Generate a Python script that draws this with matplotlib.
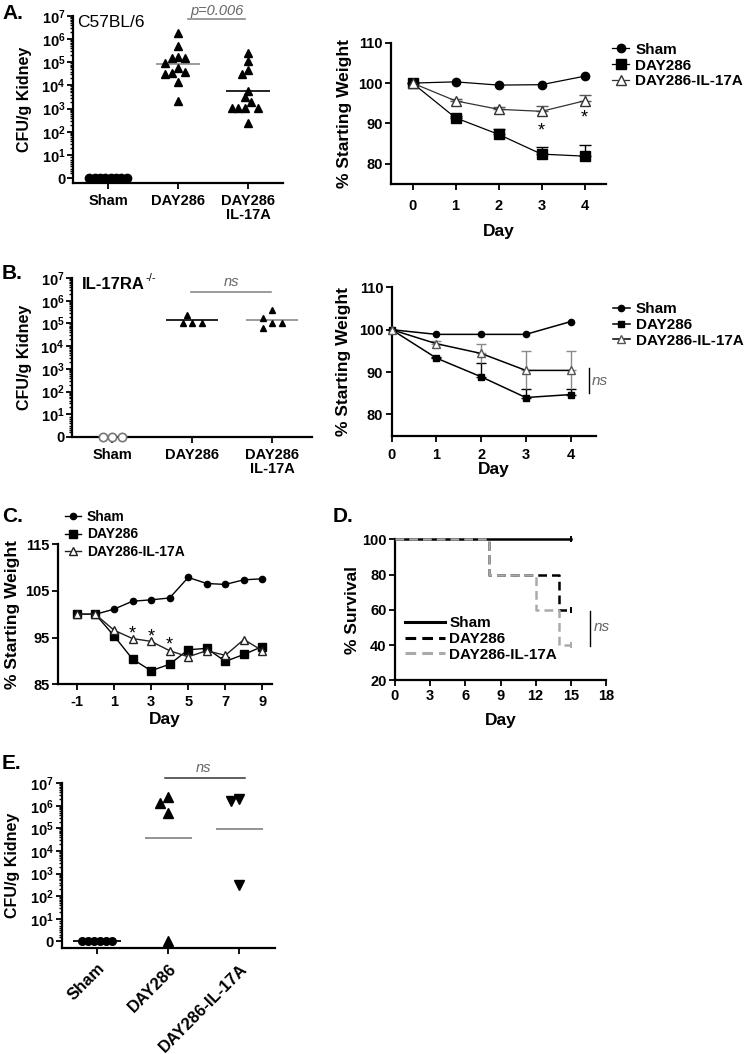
import numpy as np
import matplotlib.pyplot as plt
from matplotlib.lines import Line2D

plt.rcParams['font.family'] = ['Liberation Sans', 'DejaVu Sans']
plt.rcParams['font.weight'] = 'bold'
plt.rcParams['axes.labelweight'] = 'bold'
plt.rcParams['axes.unicode_minus'] = False
plt.rcParams['mathtext.fontset'] = 'custom'
plt.rcParams['mathtext.rm'] = 'Liberation Sans:bold'
plt.rcParams['mathtext.bf'] = 'Liberation Sans:bold'
plt.rcParams['mathtext.it'] = 'Liberation Sans:bold:italic'
plt.rcParams['axes.linewidth'] = 1.6

# ---------------- data ----------------
groups = ['Sham', 'DAY286', 'DAY286\nIL-17A']
groups_e = ['Sham', 'DAY286', 'DAY286-IL-17A']
series = ['Sham', 'DAY286', 'DAY286-IL-17A']

# A: CFU/g kidney, C57BL/6
a_sham = [0, 0, 0, 0, 0, 0, 0, 0]
a_day286 = [1.8e6, 5.2e5, 1.65e5, 1.5e5, 1.5e5, 9.5e4, 5.6e4, 3.5e4, 3.8e4, 3.2e4, 1.35e4, 2.2e3]
a_il17 = [2.5e5, 1.1e5, 4.6e4, 3.2e4, 5.8e3, 3.2e3, 1.9e3, 1.1e3, 1.1e3, 1.1e3, 1.1e3, 2.3e2]
a_centre = [0, 8.7e4, 5.8e3]
a_pval = 'p=0.006'

# A: weight
a_days = [0, 1, 2, 3, 4]
a_w_sham = [100, 100.3, 99.5, 99.6, 101.7]
a_w_d286 = [100, 91.4, 87.3, 82.4, 81.9]
a_w_d286_err = [0, 0.4, 1.2, 1.8, 2.7]
a_w_il17 = [100, 95.6, 93.5, 93.0, 95.6]
a_w_il17_err = [0, 0.5, 0.5, 1.3, 1.4]
a_star_days = [3, 4]
a_star_y = [89.7, 92.7]

# B: CFU/g kidney, IL-17RA-/-
b_sham = [0, 0, 0]
b_day286 = [1e5, 1e5, 1e5, 2.4e5]
b_il17 = [4e5, 1.8e5, 1.07e5, 1.07e5, 6e4]
b_centre = [0, 1.35e5, 1.38e5]

# B: weight
b_days = [0, 1, 2, 3, 4]
b_w_sham = [100, 98.9, 98.9, 98.9, 101.9]
b_w_d286 = [100, 93.3, 88.9, 84.0, 84.7]
b_w_d286_err = [0, 0.3, 3.2, 2.0, 1.3]
b_w_il17 = [100, 96.7, 94.4, 90.4, 90.4]
b_w_il17_err = [0, 0.6, 2.3, 4.5, 4.5]

# C: weight, longer course
c_days = [-1, 0, 1, 2, 3, 4, 5, 6, 7, 8, 9]
c_sham = [100, 100, 101.1, 102.8, 103.1, 103.5, 107.9, 106.6, 106.4, 107.4, 107.6]
c_d286 = [100, 100, 95.4, 90.4, 87.9, 89.3, 92.4, 92.7, 89.9, 91.4, 93.1]
c_il17 = [100, 100, 96.6, 94.8, 94.2, 92.2, 90.9, 92.2, 91.2, 94.6, 92.2]
c_star_days = [2, 3, 4]
c_star_y = [97.0, 96.5, 94.6]

# D: survival
d_sham_t = [0, 15]
d_sham_s = [100, 100]
d_d286_t = [0, 8, 14, 15]
d_d286_s = [100, 80, 60, 60]
d_il17_t = [0, 8, 12, 14, 15]
d_il17_s = [100, 80, 60, 40, 40]

# E: CFU/g kidney
e_sham = [0, 0, 0, 0, 0, 0]
e_day286 = [2.6e6, 1.3e6, 4.8e5, 0]
e_il17 = [2.0e6, 1.6e6, 3.0e2]
e_centre = [0, 3.7e4, 9.1e4]

GRAY = '#8a8a8a'
LGRAY = '#aaaaaa'

fig = plt.figure(figsize=(7.5, 10.54), dpi=100)
W, H = 750.0, 1054.0


def panel(x0, x1, ytop, ybot):
    ax = fig.add_axes([x0 / W, 1 - ybot / H, (x1 - x0) / W, (ybot - ytop) / H])
    ax.spines['top'].set_visible(False)
    ax.spines['right'].set_visible(False)
    ax.tick_params(direction='out', length=4, width=1.3, labelsize=10, pad=2)
    ax.tick_params(which='minor', direction='out', length=2.5, width=1.0)
    return ax


def cfu_axis(ax, ylo):
    ax.set_yscale('symlog', linthresh=10, linscale=0.9)
    ax.set_ylim(ylo, 1e7)
    ax.set_yticks([0] + [10 ** k for k in range(1, 8)])
    ax.set_yticklabels(['0'] + ['$10^{%d}$' % k for k in range(1, 8)])
    ax.set_yticks([m * 10 ** d for d in range(0, 7) for m in range(2, 10)], minor=True)
    ax.yaxis.set_minor_formatter(plt.NullFormatter())
    ax.tick_params(axis='y', labelsize=10.5, pad=1.5)
    ax.set_xlim(-0.5, 2.5)
    ax.set_xticks([0, 1, 2])
    ax.set_ylabel('CFU/g Kidney', fontsize=11.5)


def swarm(ax, xc, vals, gap):
    vals = np.asarray(vals, float)
    ypx = ax.transData.transform(np.column_stack([np.full(len(vals), xc), vals]))[:, 1]
    pxu = ax.transData.transform((1, 0))[0] - ax.transData.transform((0, 0))[0]
    placed, offs = [], []
    step = gap / 2.0
    for y in ypx:
        done = False
        for k in range(60):
            for c in ([0.0] if k == 0 else [-k * step, k * step]):
                if all((c - px) ** 2 + (y - py) ** 2 >= gap ** 2 - 1e-6 for px, py in placed):
                    placed.append((c, y))
                    offs.append(c)
                    done = True
                    break
            if done:
                break
    offs = np.array(offs)
    if np.ptp(vals) == 0:
        offs -= offs.mean()
    return xc + offs / pxu


def dots(ax, xc, vals, gap, **kw):
    xs = swarm(ax, xc, vals, gap)
    ax.plot(xs, vals, ls='none', clip_on=False, zorder=3, **kw)


def stars(ax, xs, ys):
    for d, y in zip(xs, ys):
        ax.annotate('*', (d, y), xytext=(0, -7.5), textcoords='offset points',
                    ha='center', va='baseline', fontsize=13, weight='normal')


# ================= A left =================
ax = panel(73, 283, 16, 183)
cfu_axis(ax, -2.15)
ax.set_xticklabels(groups, fontsize=10.5, linespacing=1.0)
ax.tick_params(axis='x', pad=4)
dots(ax, 0, a_sham, 5.3, marker='o', ms=6, color='k')
dots(ax, 1, a_day286, 6.5, marker='^', ms=6, color='k')
dots(ax, 2, a_il17, 6.5, marker='^', ms=6, color='k')
ax.hlines(a_centre, [-0.32, 0.68, 1.68], [0.32, 1.32, 2.32],
          colors=['k', GRAY, 'k'], lw=1.2, zorder=2)
ax.plot([1.14, 1.96], [7.4e6, 7.4e6], color=GRAY, lw=1.2, clip_on=False)
ax.text(1.55, 8.5e6, a_pval, ha='center', va='bottom', fontsize=10.5,
        style='italic', weight='normal', color='#666666')
ax.text(0.02, 0.96, 'C57BL/6', transform=ax.transAxes, fontsize=12.5,
        weight='normal', ha='left', va='center')
ax.yaxis.set_label_coords(-0.195, 0.5)

# ================= A right =================
ax = panel(391, 606, 42.7, 184)
ax.set_xlim(-0.5, 4.5)
ax.set_ylim(75, 110)
ax.set_yticks([80, 90, 100, 110])
ax.set_xticks(a_days)
ax.tick_params(axis='x', pad=7)
ax.tick_params(labelsize=10.5)
ax.errorbar(a_days, a_w_d286, yerr=[np.zeros(5), a_w_d286_err], fmt='none',
            ecolor='k', elinewidth=1, capsize=4, capthick=1, zorder=2)
ax.errorbar(a_days, a_w_il17, yerr=[np.zeros(5), a_w_il17_err], fmt='none',
            ecolor='#555555', elinewidth=1, capsize=4, capthick=1, zorder=2)
ax.plot(a_days, a_w_sham, '-o', color='k', lw=0.9, ms=6, label=series[0], clip_on=False, zorder=4)
ax.plot(a_days, a_w_d286, '-s', color='k', lw=0.9, ms=6.5, label=series[1], clip_on=False, zorder=4)
ax.plot(a_days, a_w_il17, '-^', color='#333333', lw=0.9, ms=7, mfc='white', mec='#333333',
        label=series[2], clip_on=False, zorder=4)
stars(ax, a_star_days, a_star_y)
ax.set_ylabel('% Starting Weight', fontsize=12.5)
ax.yaxis.set_label_coords(-0.181, 0.5)
ax.set_xlabel('Day', fontsize=12.5, va='top')
ax.xaxis.set_label_coords(0.5, -0.283)
ax.legend(loc='upper left', bbox_to_anchor=(1.03, 1.0), frameon=False, fontsize=11,
          handlelength=1.1, handletextpad=0.4, labelspacing=0.12, borderpad=0, borderaxespad=0)

# ================= B left =================
ax = panel(72, 312, 278, 437)
cfu_axis(ax, 0)
ax.set_xticklabels(groups, fontsize=10.5, linespacing=1.0)
ax.tick_params(axis='x', pad=4)
dots(ax, 0, b_sham, 9.5, marker='o', ms=6, mfc='white', mec='#777777', mew=1.2)
dots(ax, 1, b_day286, 9.5, marker='^', ms=5, color='k')
dots(ax, 2, b_il17, 9.5, marker='^', ms=5, color='k')
ax.hlines(b_centre[1:], [0.67, 1.67], [1.33, 2.33], colors=['k', GRAY], lw=1.2, zorder=2)
ax.plot([0.99, 1.99], [2.5e6, 2.5e6], color=GRAY, lw=1.2, clip_on=False)
ax.text(1.5, 3.3e6, 'ns', ha='center', va='bottom', fontsize=10.5,
        style='italic', weight='normal', color='#666666')
t = ax.text(0.04, 0.96, 'IL-17RA', transform=ax.transAxes, fontsize=12,
            ha='left', va='center')
ax.annotate('-/-', xy=(1, 0.95), xycoords=t, xytext=(0.8, 0), textcoords='offset points',
            ha='left', va='center', fontsize=8, weight='normal')
ax.yaxis.set_label_coords(-0.167, 0.5)

# ================= B right =================
ax = panel(391.7, 596, 287.3, 435.7)
ax.set_xlim(0, 4.57)
ax.set_ylim(75, 110)
ax.set_yticks([80, 90, 100, 110])
ax.set_xticks(b_days)
ax.tick_params(axis='x', pad=5)
ax.tick_params(labelsize=10.5)
ax.errorbar(b_days, b_w_d286, yerr=[np.zeros(5), b_w_d286_err], fmt='none',
            ecolor='k', elinewidth=1, capsize=3.5, capthick=1, zorder=2)
ax.errorbar(b_days, b_w_il17, yerr=[b_w_il17_err, np.zeros(5)], fmt='none',
            ecolor=GRAY, elinewidth=1, capsize=0, zorder=2)
ax.errorbar(b_days, b_w_il17, yerr=[np.zeros(5), b_w_il17_err], fmt='none',
            ecolor=GRAY, elinewidth=1, capsize=3.5, capthick=1, zorder=2)
ax.plot(b_days, b_w_sham, '-o', color='k', lw=1.1, ms=4.5, label=series[0], clip_on=False, zorder=4)
ax.plot(b_days, b_w_d286, '-s', color='k', lw=1.1, ms=4.5, label=series[1], clip_on=False, zorder=4)
ax.plot(b_days, b_w_il17, '-^', color='k', lw=1.1, ms=6, mfc='white', mec='#555555',
        label=series[2], clip_on=False, zorder=4)
ax.plot([4.41, 4.41], [85.1, 90.9], color='k', lw=1, clip_on=False)
ax.text(4.48, 88, 'ns', ha='left', va='center', fontsize=11, style='italic',
        weight='normal', color='#666666')
ax.set_ylabel('% Starting Weight', fontsize=12.5)
ax.yaxis.set_label_coords(-0.199, 0.5)
ax.set_xlabel('Day', fontsize=12.5, va='top')
ax.xaxis.set_label_coords(0.5, -0.18)
ax.legend(loc='upper left', bbox_to_anchor=(1.083, 0.90), frameon=False, fontsize=11,
          handlelength=1.1, handletextpad=0.4, labelspacing=0.12, borderpad=0, borderaxespad=0)

# ================= C =================
ax = panel(58.3, 271.7, 544.3, 684.3)
ax.set_xlim(-2, 9.5)
ax.set_ylim(85, 115)
ax.set_yticks([85, 95, 105, 115])
ax.set_xticks([-1, 1, 3, 5, 7, 9])
ax.tick_params(axis='x', pad=4)
ax.tick_params(labelsize=10.5)
ax.plot(c_days, c_sham, '-o', color='k', lw=1, ms=4.5, label=series[0], clip_on=False, zorder=4)
ax.plot(c_days, c_d286, '-s', color='k', lw=1, ms=5.5, label=series[1], clip_on=False, zorder=3)
ax.plot(c_days, c_il17, '-^', color='#222222', lw=1, ms=6, mfc='white', mec='#222222',
        label=series[2], clip_on=False, zorder=4)
stars(ax, c_star_days, c_star_y)
ax.set_ylabel('% Starting Weight', fontsize=12.5)
ax.yaxis.set_label_coords(-0.18, 0.5)
ax.set_xlabel('Day', fontsize=12.5, va='top')
ax.xaxis.set_label_coords(0.5, -0.196)
ax.legend(loc='upper left', bbox_to_anchor=(0.03, 1.245), frameon=False, fontsize=10,
          handlelength=1.2, handletextpad=0.4, labelspacing=0.25, borderpad=0, borderaxespad=0)

# ================= D =================
ax = panel(395, 606, 539.3, 680.3)
ax.set_xlim(0, 18)
ax.set_ylim(20, 100)
ax.set_xticks(range(0, 19, 3))
ax.set_yticks(range(20, 101, 20))
ax.tick_params(labelsize=10.5)
ax.step(d_sham_t, d_sham_s, where='post', color='k', lw=1.8, clip_on=False, zorder=2)
ax.step(d_d286_t, d_d286_s, where='post', color='k', lw=1.8, dashes=(3.5, 2),
        clip_on=False, zorder=3)
ax.step(d_il17_t, d_il17_s, where='post', color=LGRAY, lw=1.8, dashes=(3.5, 2),
        clip_on=False, zorder=4)
ax.plot([d_sham_t[-1]], [d_sham_s[-1]], marker='|', ms=5, mew=1.4, color='k', clip_on=False)
ax.plot([d_d286_t[-1]], [d_d286_s[-1]], marker='|', ms=4, mew=1.4, color='k', clip_on=False)
ax.plot([d_il17_t[-1]], [d_il17_s[-1]], marker='|', ms=4, mew=1.4, color=LGRAY, clip_on=False)
ax.plot([16.6, 16.6], [39.6, 59.3], color='k', lw=1, clip_on=False)
ax.text(16.95, 50, 'ns', ha='left', va='center', fontsize=11, style='italic',
        weight='normal', color='#666666')
handles = [Line2D([], [], color='k', lw=2.2),
           Line2D([], [], color='k', lw=2.2, dashes=(3.5, 2)),
           Line2D([], [], color=LGRAY, lw=2.2, dashes=(3.5, 2))]
ax.legend(handles, series, loc='upper left', bbox_to_anchor=(0.047, 0.455), frameon=False,
          fontsize=11, handlelength=2.6, handletextpad=0.3, labelspacing=0.12,
          borderpad=0, borderaxespad=0)
ax.set_ylabel('% Survival', fontsize=12.5)
ax.yaxis.set_label_coords(-0.166, 0.5)
ax.set_xlabel('Day', fontsize=12.5, va='top')
ax.xaxis.set_label_coords(0.5, -0.232)

# ================= E =================
ax = panel(61.7, 275, 783.3, 948.3)
cfu_axis(ax, -3.1)
ax.set_xticklabels(groups_e, fontsize=12, rotation=45, ha='right', va='top',
                   rotation_mode='anchor')
ax.tick_params(axis='x', pad=5)
dots(ax, 0, e_sham, 6, marker='o', ms=5.5, color='k')
dots(ax, 1, e_day286, 8, marker='^', ms=6.5, color='k')
dots(ax, 2, e_il17, 8, marker='v', ms=6.5, color='k')
ax.hlines(e_centre, [-0.34, 0.67, 1.67], [0.34, 1.33, 2.33],
          colors=['k', GRAY, GRAY], lw=1.3, zorder=2)
ax.plot([0.95, 2.08], [1.7e7, 1.7e7], color='#333333', lw=1.1, clip_on=False)
ax.text(1.5, 2.3e7, 'ns', ha='center', va='bottom', fontsize=10.5,
        style='italic', weight='normal', color='#666666')
ax.yaxis.set_label_coords(-0.195, 0.5)

# panel letters
for lab, x, y in [('A.', 2, 4), ('B.', 2, 264), ('C.', 2, 507), ('D.', 333, 507), ('E.', 2, 754)]:
    fig.text(x / W, 1 - y / H, lab, fontsize=15, weight='bold', ha='left', va='top')

fig.savefig('out.png', dpi=100)
